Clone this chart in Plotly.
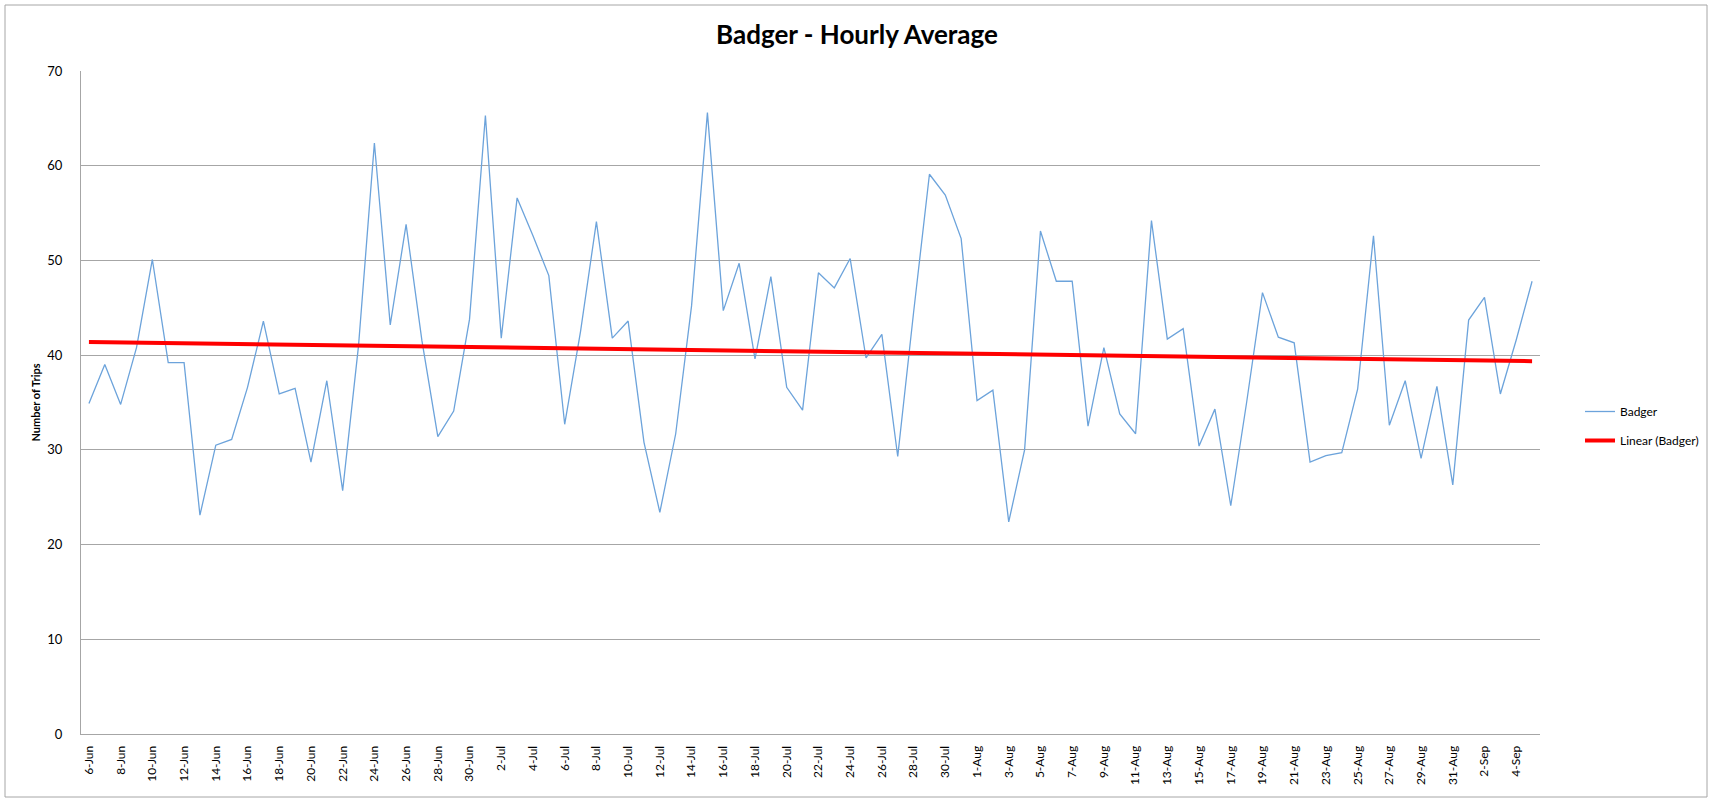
import numpy as np
import pandas as pd
import plotly.graph_objects as go

# ---- data ----
dates = pd.date_range("2013-06-06", "2013-09-05", freq="D")
categories = [f"{d.day}-{d.strftime('%b')}" for d in dates]

june = [34.9, 39.0, 34.8, 40.8, 50.1, 39.2, 39.2, 23.1, 30.5, 31.1, 36.6, 43.6,
        35.9, 36.5, 28.7, 37.3, 25.7, 41.0, 62.4, 43.2, 53.8, 41.5, 31.4, 34.1, 43.8]
july = [65.3, 41.8, 56.6, 52.6, 48.4, 32.7, 42.5, 54.1, 41.8, 43.6, 30.8, 23.4,
        31.7, 45.2, 65.6, 44.7, 49.7, 39.6, 48.3, 36.6, 34.2, 48.7, 47.1, 50.2,
        39.7, 42.2, 29.3, 44.5, 59.1, 56.9, 52.3]
august = [35.2, 36.3, 22.4, 30.0, 53.1, 47.8, 47.8, 32.5, 40.8, 33.8, 31.7, 54.2,
          41.7, 42.8, 30.4, 34.3, 24.1, 35.0, 46.6, 41.9, 41.3, 28.7, 29.4, 29.7,
          36.4, 52.6, 32.6, 37.3, 29.1, 36.7, 26.3]
september = [43.7, 46.1, 35.9, 41.6, 47.8]

badger = june + july + august + september
tick_labels = categories[::2]

# linear trendline (least squares, as Excel does)
idx = np.arange(1, len(badger) + 1)
slope, intercept = np.polyfit(idx, badger, 1)
trend = slope * idx + intercept

FONT = "Lato, 'Liberation Sans', Arial, sans-serif"
GRID = "#A6A6A6"

fig = go.Figure()
fig.add_trace(go.Scatter(
    x=categories, y=badger, mode="lines", name="Badger",
    line=dict(color="#6CA3DB", width=1.3), legendgroup="a",
))
fig.add_trace(go.Scatter(
    x=categories, y=trend, mode="lines", name="Linear (Badger)",
    line=dict(color="#FF0000", width=4), legendgroup="b",
))

L, R, T, B = 81, 173, 71, 67
pw = 1713 - L - R
ph = 801 - T - B

fig.update_layout(
    width=1713, height=801,
    margin=dict(l=L, r=R, t=T, b=B, pad=0, autoexpand=False),
    paper_bgcolor="white", plot_bgcolor="white",
    font=dict(family=FONT, size=12, color="black"),
    title=dict(text="<b>Badger - Hourly Average</b>", x=857 / 1713, xanchor="center",
               y=1 - 35 / 801, yanchor="middle", font=dict(size=26, family=FONT, color="black")),
    showlegend=True,
    legend=dict(x=(1580 - L) / pw, xanchor="left", y=1 - (426 - T) / ph, yanchor="middle",
                font=dict(size=12, family=FONT, color="black"), tracegroupgap=10,
                bgcolor="rgba(0,0,0,0)", itemwidth=30),
    xaxis=dict(
        type="category", categoryorder="array", categoryarray=categories,
        range=[-0.5, len(categories) - 0.5],
        tickmode="array", tickvals=tick_labels, ticktext=tick_labels,
        tickangle=-90, tickfont=dict(size=12, family=FONT),
        showgrid=False, showline=True, linecolor=GRID, linewidth=1,
        ticks="", ticklabelstandoff=6,
    ),
    yaxis=dict(
        range=[0, 70], dtick=10, tick0=0,
        showgrid=True, gridcolor=GRID, gridwidth=1,
        zeroline=False, showline=True, linecolor=GRID, linewidth=1,
        tickfont=dict(size=13, family=FONT), ticks="", ticklabelstandoff=15,
        title=dict(text="<b>Number of Trips</b>", font=dict(size=11, family=FONT), standoff=4),
    ),
    shapes=[dict(type="rect", xref="paper", yref="paper",
                 x0=(5 - L) / pw, x1=(1707 - L) / pw,
                 y0=(T + ph - 797) / ph, y1=(T + ph - 5) / ph,
                 line=dict(color=GRID, width=1), fillcolor="rgba(0,0,0,0)", layer="below")],
)

fig.write_html("out.html", config={"displayModeBar": False},
               post_script="document.body.style.margin='0';")
